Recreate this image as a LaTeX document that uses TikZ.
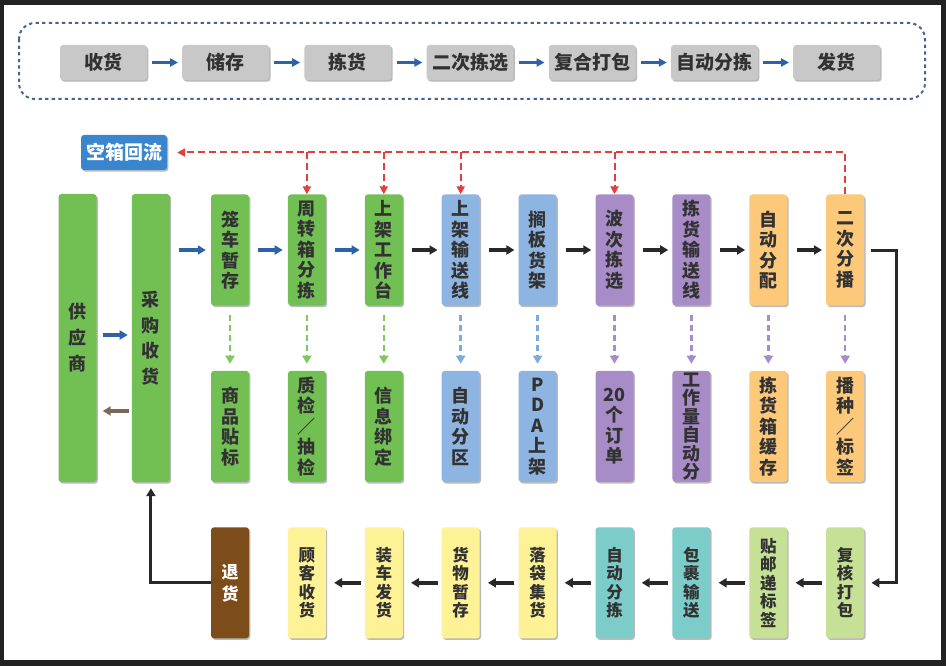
\documentclass[tikz,border=0pt]{standalone}
\usepackage{fontspec}
\setmainfont{Noto Sans CJK SC}
\usetikzlibrary{arrows.meta,positioning,shadows}

\definecolor{framedark}{RGB}{34,34,34}
\definecolor{txtgray}{RGB}{50,50,50}
\definecolor{boxgray}{RGB}{200,200,200}
\definecolor{dotblue}{RGB}{70,100,140}
\definecolor{arrblue}{RGB}{46,98,168}
\definecolor{kxblue}{RGB}{58,134,206}
\definecolor{redline}{RGB}{226,62,62}
\definecolor{gbox}{RGB}{114,191,84}
\definecolor{gdash}{RGB}{126,200,92}
\definecolor{bbox}{RGB}{142,180,226}
\definecolor{bdash}{RGB}{122,170,222}
\definecolor{pbox}{RGB}{168,140,200}
\definecolor{pdash}{RGB}{166,140,204}
\definecolor{obox}{RGB}{252,200,122}
\definecolor{lgbox}{RGB}{198,224,150}
\definecolor{tbox}{RGB}{124,204,202}
\definecolor{ybox}{RGB}{254,242,150}
\definecolor{brbox}{RGB}{124,76,26}
\definecolor{brarrow}{RGB}{122,104,92}
\definecolor{karrow}{RGB}{40,40,40}

\begin{document}
\begin{tikzpicture}[x=1pt, y=-1pt,
  base/.style={rounded corners=3pt, inner sep=0pt, align=center, text=txtgray,
               drop shadow={shadow xshift=1.3pt, shadow yshift=-1.6pt,
                            opacity=0.45, fill=black!60}},
  topbox/.style={base, fill=boxgray, minimum width=87pt, minimum height=35pt,
                 font=\fontsize{19}{22}\selectfont\bfseries},
  col/.style={base, text width=38pt, minimum height=111pt,
              font=\fontsize{18}{20.5}\selectfont\bfseries},
  low/.style={col, font=\fontsize{16.5}{18.5}\selectfont\bfseries},
  tall/.style={col, minimum height=288pt, font=\fontsize{18}{26}\selectfont\bfseries},
  tarr/.style={-{Triangle[length=8pt,width=8pt]}, line width=3pt, arrblue,
               shorten <=5pt, shorten >=4pt},
  barr/.style={-{Triangle[length=8pt,width=9pt]}, line width=3.5pt, arrblue,
               shorten <=9pt, shorten >=5pt},
  karr/.style={-{Triangle[length=8pt,width=9pt]}, line width=3.5pt, karrow,
               shorten <=9pt, shorten >=4pt},
  larr/.style={-{Triangle[length=8pt,width=9pt]}, line width=3.5pt, karrow,
               shorten <=4pt, shorten >=8pt},
  darr/.style={-{Triangle[length=8pt,width=9pt]}, line width=2.5pt,
               dash pattern=on 6pt off 4pt, shorten <=9pt, shorten >=7pt},
  rarr/.style={-{Triangle[length=8pt,width=8pt]}, line width=2pt, redline,
               dash pattern=on 7pt off 4pt}
]
  % frame
  \fill[framedark] (0,0) rectangle (946,666);
  \fill[white] (4,5) rectangle (941,660);

  % top flow
  \draw[dotblue, line width=2pt, dash pattern=on 3.3pt off 3.3pt, rounded corners=16pt]
    (19,23) rectangle (925,99);
  \node[topbox] (sh) at (103.5,62.5) {收货};
  \node[topbox, right=34.8pt of sh] (cc) {储存};
  \node[topbox, right=34.8pt of cc] (jh) {拣货};
  \node[topbox, right=34.8pt of jh] (ecjx) {二次拣选};
  \node[topbox, right=34.8pt of ecjx] (fhdb) {复合打包};
  \node[topbox, right=34.8pt of fhdb] (zdfj) {自动分拣};
  \node[topbox, right=34.8pt of zdfj] (fh) {发货};
  \draw[tarr] (sh) -- (cc);
  \draw[tarr] (cc) -- (jh);
  \draw[tarr] (jh) -- (ecjx);
  \draw[tarr] (ecjx) -- (fhdb);
  \draw[tarr] (fhdb) -- (zdfj);
  \draw[tarr] (zdfj) -- (fh);

  \node[topbox, fill=kxblue, text=white, minimum width=86pt] (kxhl) at (124,152.5) {空箱回流};

  % supplier / receiving
  \node[tall, fill=gbox] (gys) at (77.5,338) {供\\应\\商};
  \node[tall, fill=gbox, right=35pt of gys, font=\fontsize{18}{25.5}\selectfont\bfseries] (cgsh) {采\\购\\收\\货};

  % row 1
  \node[col, fill=gbox] (lczc) at (230,250) {笼\\车\\暂\\存};
  \node[col, fill=gbox, right=38.5pt of lczc] (zzx) {周\\转\\箱\\分\\拣};
  \node[col, fill=gbox, right=38.5pt of zzx] (sjgt) {上\\架\\工\\作\\台};
  \node[col, fill=bbox, right=38.5pt of sjgt] (sjss) {上\\架\\输\\送\\线};
  \node[col, fill=bbox, right=38.5pt of sjss] (gbhj) {搁\\板\\货\\架};
  \node[col, fill=pbox, right=38.5pt of gbhj] (bcjx) {波\\次\\拣\\选};
  \node[col, fill=pbox, right=38.5pt of bcjx] (jhss) {拣\\货\\输\\送\\线};
  \node[col, fill=obox, right=38.5pt of jhss] (zdfp) {自\\动\\分\\配};
  \node[col, fill=obox, right=38.5pt of zdfp] (ecfb) {二\\次\\分\\播};

  % row 2
  \node[col, fill=gbox, below=65pt of lczc] (sptb) {商\\品\\贴\\标};
  \node[col, fill=gbox, below=65pt of zzx] (zjcj) {质\\检\\／\\抽\\检};
  \node[col, fill=gbox, below=65pt of sjgt] (xxbd) {信\\息\\绑\\定};
  \node[col, fill=bbox, below=65pt of sjss] (zdfq) {自\\动\\分\\区};
  \node[col, fill=bbox, below=65pt of gbhj] (pda) {P\\D\\A\\上\\架};
  \node[col, fill=pbox, below=65pt of bcjx] (dd20) {20\\个\\订\\单};
  \node[col, fill=pbox, below=65pt of jhss, font=\fontsize{18}{18.5}\selectfont\bfseries] (gzl) {工\\作\\量\\自\\动\\分};
  \node[col, fill=obox, below=65pt of zdfp] (jhxhc) {拣\\货\\箱\\缓\\存};
  \node[col, fill=obox, below=65pt of ecfb] (bzbq) {播\\种\\／\\标\\签};

  % row 3
  \node[low, fill=lgbox, below=45pt of bzbq] (fhdb2) {复\\核\\打\\包};
  \node[low, fill=lgbox, below=45pt of jhxhc] (tydbq) {贴\\邮\\递\\标\\签};
  \node[low, fill=tbox, below=45pt of gzl] (gbss) {包\\裹\\输\\送};
  \node[low, fill=tbox, below=45pt of dd20] (zdfj2) {自\\动\\分\\拣};
  \node[low, fill=ybox, below=45pt of pda] (ldjh) {落\\袋\\集\\货};
  \node[low, fill=ybox, below=45pt of zdfq] (hwzc) {货\\物\\暂\\存};
  \node[low, fill=ybox, below=45pt of xxbd] (zcfh) {装\\车\\发\\货};
  \node[low, fill=ybox, below=45pt of zjcj] (gksh) {顾\\客\\收\\货};
  \node[low, fill=brbox, text=white, below=45pt of sptb, font=\fontsize{17}{22}\selectfont\bfseries] (th) {退\\货};

  % supplier arrows
  \draw[barr, shorten <=6pt, shorten >=4pt] ([yshift=3pt]gys.east) -- ([yshift=3pt]cgsh.west);
  \draw[-{Triangle[length=8pt,width=9pt]}, line width=3.5pt, brarrow, shorten <=3pt, shorten >=6pt]
    ([yshift=-73pt]cgsh.west) -- ([yshift=-73pt]gys.east);

  % row 1 arrows
  \draw[barr] (cgsh.east |- lczc.west) -- (lczc.west);
  \draw[barr] (lczc) -- (zzx);
  \draw[barr] (zzx) -- (sjgt);
  \draw[karr] (sjgt) -- (sjss);
  \draw[karr] (sjss) -- (gbhj);
  \draw[karr] (gbhj) -- (bcjx);
  \draw[karr] (bcjx) -- (jhss);
  \draw[karr] (jhss) -- (zdfp);
  \draw[karr] (zdfp) -- (ecfb);

  % dashed arrows down
  \draw[darr, gdash] (lczc) -- (sptb);
  \draw[darr, gdash] (zzx) -- (zjcj);
  \draw[darr, gdash] (sjgt) -- (xxbd);
  \draw[darr, bdash] (sjss) -- (zdfq);
  \draw[darr, bdash] (gbhj) -- (pda);
  \draw[darr, pdash] (bcjx) -- (dd20);
  \draw[darr, pdash] (jhss) -- (gzl);
  \draw[darr, pdash] (zdfp) -- (jhxhc);
  \draw[darr, pdash] (ecfb) -- (bzbq);

  % empty box return
  \draw[rarr, shorten >=10pt] (ecfb.north) -- (ecfb.north |- kxhl.east) -- (kxhl.east);
  \draw[rarr] (zzx.north |- kxhl.east) -- (zzx.north);
  \draw[rarr] (sjgt.north |- kxhl.east) -- (sjgt.north);
  \draw[rarr] (sjss.north |- kxhl.east) -- (sjss.north);
  \draw[rarr] (bcjx.north |- kxhl.east) -- (bcjx.north);

  % to packing
  \draw[-{Triangle[length=8pt,width=9pt]}, line width=3pt, karrow, shorten <=7pt, shorten >=7pt]
    (ecfb.east) -- ++(32,0) |- (fhdb2.east);

  % row 3 arrows
  \draw[larr] (fhdb2) -- (tydbq);
  \draw[larr] (tydbq) -- (gbss);
  \draw[larr] (gbss) -- (zdfj2);
  \draw[larr] (zdfj2) -- (ldjh);
  \draw[larr] (ldjh) -- (hwzc);
  \draw[larr] (hwzc) -- (zcfh);
  \draw[larr] (zcfh) -- (gksh);

  % returns
  \draw[-{Triangle[length=8pt,width=9pt]}, line width=3pt, karrow, shorten >=6pt]
    (th.west) -| (cgsh.south);
\end{tikzpicture}
\end{document}
